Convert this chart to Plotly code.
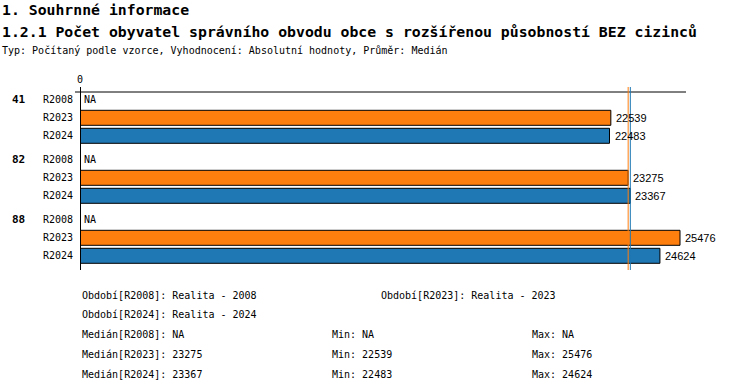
import numpy as np
import plotly.graph_objects as go

# --- data -------------------------------------------------------------
groups = ["41", "82", "88"]
periods = ["R2008", "R2023", "R2024"]
r2008 = [None, None, None]
r2023 = [22539, 23275, 25476]
r2024 = [22483, 23367, 24624]
period_desc = ["Realita - 2008", "Realita - 2023", "Realita - 2024"]

series = {"R2008": r2008, "R2023": r2023, "R2024": r2024}
colors = {"R2008": "#7f7f7f", "R2023": "#ff7f0e", "R2024": "#1f77b4"}

MONO = "DejaVu Sans Mono"

# --- layout geometry (pixels) ------------------------------------------
W, H = 750, 392
PL, PR, PT, PB = 80, 686, 87, 270
ROW = 18.0              # pixels per bar slot
GROUP_PITCH = 60.0      # pixels between groups
FIRST_ROW = 99.8        # centre of the first slot

def px_x(x):
    return (x - PL) / (PR - PL)

def px_y(y):
    return (PB - y) / (PB - PT)

def slot(g, r):
    return g * GROUP_PITCH / ROW + r

y_top = -(FIRST_ROW - PT) / ROW
y_bot = y_top + (PB - PT) / ROW

all_vals = [v for s in series.values() for v in s if v is not None]
xmax = max(all_vals) * 1.01

fig = go.Figure()
annotations = []

for r, p in enumerate(periods):
    vals = series[p]
    ys = [slot(g, r) for g in range(len(groups))]
    present = [(y, v) for y, v in zip(ys, vals) if v is not None]
    if present:
        fig.add_trace(go.Bar(
            x=[v for _, v in present], y=[y for y, _ in present],
            orientation="h", width=15 / ROW,
            marker=dict(color=colors[p], line=dict(color="black", width=1)),
            name=p, showlegend=False, hoverinfo="x",
        ))
    for y, v in zip(ys, vals):
        annotations.append(dict(
            x=v if v is not None else 0, y=y, xref="x", yref="y",
            text=str(v) if v is not None else "NA",
            xanchor="left", yanchor="middle", showarrow=False,
            xshift=3 if v is not None else 2,
            font=dict(family=MONO if v is None else "Liberation Sans",
                      size=10 if v is None else 11, color="black"),
        ))
    for g, grp in enumerate(groups):
        annotations.append(dict(
            x=0, y=slot(g, r), xref="paper", yref="y", text=p,
            xanchor="right", yanchor="middle", showarrow=False, xshift=-5,
            font=dict(family=MONO, size=10, color="black"),
        ))

for g, grp in enumerate(groups):
    annotations.append(dict(
        x=px_x(10), y=slot(g, 0), xref="paper", yref="y", text="<b>" + grp + "</b>",
        xanchor="left", yanchor="middle", showarrow=False,
        font=dict(family=MONO, size=11, color="black"),
    ))

# "0" tick on top of the value axis
annotations.append(dict(
    x=0, y=1, xref="x", yref="paper", text="0", xanchor="center", yanchor="bottom",
    showarrow=False, yshift=0, font=dict(family=MONO, size=10, color="black"),
))

shapes = [
    # top baseline
    dict(type="line", xref="paper", yref="paper", x0=px_x(75), x1=1,
         y0=px_y(92), y1=px_y(92), line=dict(color="black", width=1)),
    # value axis at zero
    dict(type="line", xref="x", yref="paper", x0=0, x1=0, y0=0, y1=1,
         line=dict(color="black", width=2)),
]

# median lines per period
medians = {}
for p in periods:
    vals = [v for v in series[p] if v is not None]
    medians[p] = float(np.median(vals)) if vals else None
    if vals:
        shapes.append(dict(type="line", xref="x", yref="paper",
                           x0=medians[p], x1=medians[p], y0=0, y1=1,
                           line=dict(color=colors[p], width=1), layer="above"))

# titles
titles = [
    ("<b>1. Souhrnné informace</b>", 9, 14.8),
    ("<b>1.2.1 Počet obyvatel správního obvodu obce s rozšířenou působností BEZ cizinců</b>", 31, 14.8),
    ("Typ: Počítaný podle vzorce, Vyhodnocení: Absolutní hodnoty, Průměr: Medián", 50, 10),
]
for text, ypx, size in titles:
    annotations.append(dict(
        x=px_x(0), y=px_y(ypx), xref="paper", yref="paper", text=text,
        xanchor="left", yanchor="middle", showarrow=False,
        font=dict(family=MONO, size=size, color="black"),
    ))

# footer: period descriptions and statistics
def fmt(v):
    return "NA" if v is None else str(int(round(v)))

footer = [
    (80, 295, f"Období[{periods[0]}]: {period_desc[0]}"),
    (379, 295, f"Období[{periods[1]}]: {period_desc[1]}"),
    (80, 314, f"Období[{periods[2]}]: {period_desc[2]}"),
]
for i, p in enumerate(periods):
    vals = [v for v in series[p] if v is not None]
    ypx = 334 + i * 20
    footer.append((80, ypx, f"Medián[{p}]: {fmt(medians[p])}"))
    footer.append((330, ypx, f"Min: {fmt(min(vals) if vals else None)}"))
    footer.append((530, ypx, f"Max: {fmt(max(vals) if vals else None)}"))
for xpx, ypx, text in footer:
    annotations.append(dict(
        x=px_x(xpx), y=px_y(ypx), xref="paper", yref="paper", text=text,
        xanchor="left", yanchor="middle", showarrow=False,
        font=dict(family=MONO, size=10, color="black"),
    ))

fig.update_layout(
    width=W, height=H,
    margin=dict(l=PL, r=W - PR, t=PT, b=H - PB, pad=0),
    paper_bgcolor="white", plot_bgcolor="white",
    barmode="overlay",
    xaxis=dict(range=[0, xmax], showgrid=False, zeroline=False, showline=False,
               showticklabels=False, ticks="", fixedrange=True),
    yaxis=dict(range=[y_bot, y_top], showgrid=False, zeroline=False, showline=False,
               showticklabels=False, ticks="", fixedrange=True),
    annotations=annotations, shapes=shapes,
    font=dict(family=MONO, size=10, color="black"),
)

fig.write_html("out.html")
